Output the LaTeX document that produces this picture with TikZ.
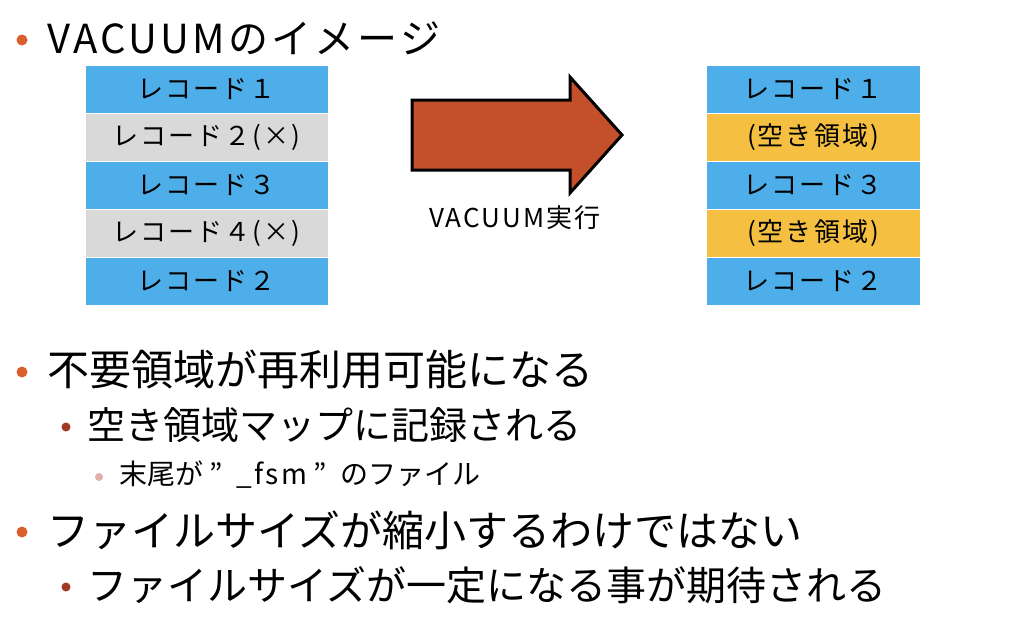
\documentclass[tikz,border=0pt]{standalone}
\usepackage{fontspec}
\setmainfont{Noto Sans CJK JP}
\newfontfamily\wide[LetterSpace=8]{Noto Sans CJK JP}
\begin{document}
\begin{tikzpicture}[x=1pt,y=-1pt,
  rec/.style={draw=white,line width=1pt,minimum width=243pt,minimum height=48pt,inner sep=0,font=\wide\fontsize{26}{28}\selectfont},
  recr/.style={rec,minimum width=214pt},
  blue/.style={fill=blueR},gray/.style={fill=grayR},yel/.style={fill=yelR},
  dot/.style={circle,fill=#1,inner sep=0}]
\definecolor{blueR}{HTML}{4DAEEA}\definecolor{grayR}{HTML}{D9D9D9}\definecolor{yelR}{HTML}{F5C042}
\definecolor{arr}{HTML}{C4502B}\definecolor{b1}{HTML}{D8602E}\definecolor{b2}{HTML}{A23A28}\definecolor{b3}{HTML}{E0B0A8}
\useasboundingbox (0,0) rectangle (1024,619);
\node[rec,blue] (l1) at (206.5,89.5) {レコード１};
\node[rec,gray] (l2) at (206.5,137.5) {レコード２(×)};
\node[rec,blue] (l3) at (206.5,185.5) {レコード３};
\node[rec,gray] (l4) at (206.5,233.5) {レコード４(×)};
\node[rec,blue] (l5) at (206.5,281.5) {レコード２};
\node[recr,blue] (r1) at (813,89.5) {レコード１};
\node[recr,yel] (r2) at (813,137.5) {(空き領域)};
\node[recr,blue] (r3) at (813,185.5) {レコード３};
\node[recr,yel] (r4) at (813,233.5) {(空き領域)};
\node[recr,blue] (r5) at (813,281.5) {レコード２};
\draw[fill=arr,line width=3pt,line join=miter] (412,100)--(570,100)--(570,77)--(622,135)--(570,193)--(570,170)--(412,170)--cycle;
\node[font=\wide\fontsize{26}{28}\selectfont] (ex) at (515,218) {VACUUM実行};
\node[dot=b1,minimum size=11pt] (d0) at (22,40) {};
\node[anchor=west,font=\wide\fontsize{40}{44}\selectfont] (t0) at (44,38) {VACUUMのイメージ};
\node[dot=b1,minimum size=11pt] (d1) at (22,372) {};
\node[anchor=west,font=\fontsize{42}{46}\selectfont] (t1) at (44,370) {不要領域が再利用可能になる};
\node[dot=b2,minimum size=9pt] (d2) at (66,427) {};
\node[anchor=west,font=\fontsize{38}{42}\selectfont] (t2) at (84,425) {空き領域マップに記録される};
\node[dot=b3,minimum size=8pt] (d3) at (99,477) {};
\node[anchor=west,font=\fontsize{28}{30}\selectfont] (t3) at (116,475) {末尾が\hspace{6pt}”\hspace{14pt}{\wide\_fsm}\hspace{6pt}”\hspace{14pt}のファイル};
\node[dot=b1,minimum size=11pt] (d4) at (22,532) {};
\node[anchor=west,font=\fontsize{42}{46}\selectfont] (t4) at (44,530) {ファイルサイズが縮小するわけではない};
\node[dot=b2,minimum size=9pt] (d5) at (66,587) {};
\node[anchor=west,font=\fontsize{40}{44}\selectfont] (t5) at (84,585) {ファイルサイズが一定になる事が期待される};
\end{tikzpicture}
\end{document}
